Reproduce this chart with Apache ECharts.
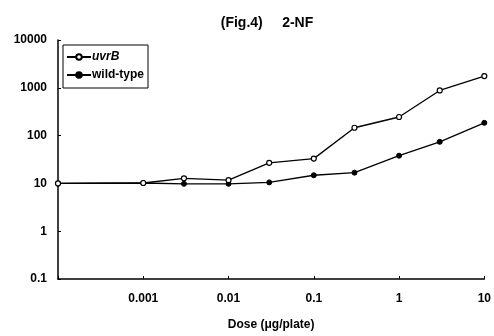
<!DOCTYPE html>
<html>
<head>
<meta charset="utf-8">
<script src="https://cdn.jsdelivr.net/npm/echarts@6/dist/echarts.min.js"></script>
<style>
  html, body { margin: 0; padding: 0; background: #fff; }
  #chart { width: 494px; height: 336px; }
</style>
</head>
<body>
<div id="chart"></div>
<script>
// dose in ug/plate; the leftmost point (0.0001) is the untreated control
const doses = [0.0001, 0.001, 0.003, 0.01, 0.03, 0.1, 0.3, 1, 3, 10];
const uvrB = [10, 10.2, 12.8, 11.7, 27, 33, 146, 245, 880, 1760];
const wildType = [10, 10.2, 9.8, 9.8, 10.5, 14.8, 16.8, 38, 74, 185];
const xTickLabels = { "0.001": "0.001", "0.01": "0.01", "0.1": "0.1", "1": "1", "10": "10" };
const yTickLabels = { "0.1": "0.1", "1": "1", "10": "10", "100": "100", "1000": "1000", "10000": "10000" };

const FONT = "Liberation Sans, Arial, sans-serif";

function pairs(xs, ys) {
  return xs.map((x, i) => [x, ys[i]]);
}

function keyOf(v) {
  return String(parseFloat(Number(v).toPrecision(6)));
}

const chart = echarts.init(document.getElementById("chart"));
chart.setOption({
  animation: false,
  title: {
    text: "(Fig.4)     2-NF",
    left: 262,
    textAlign: "center",
    top: 11,
    textStyle: { fontFamily: FONT, fontSize: 14, fontWeight: "bold", color: "#000" },
  },
  legend: {
    orient: "vertical",
    left: 63,
    top: 45,
    padding: [6, 4, 7, 3],
    itemGap: 6,
    itemWidth: 24,
    itemHeight: 7,
    borderColor: "#000",
    borderWidth: 1,
    data: ["uvrB", "wild-type"],
    formatter: (name) => (name === "uvrB" ? "{i|uvrB}" : name),
    textStyle: {
      fontFamily: FONT,
      fontSize: 12,
      fontWeight: "bold",
      color: "#000",
      padding: [0, 0, 0, -4],
      rich: { i: { fontStyle: "italic", fontWeight: "bold", fontFamily: FONT, fontSize: 12, color: "#000" } },
    },
  },
  grid: { left: 58, right: 8, top: 40, bottom: 53 },
  xAxis: {
    type: "log",
    logBase: 10,
    min: 0.0001,
    max: 10,
    name: "Dose (μg/plate)",
    nameLocation: "middle",
    nameGap: 40,
    nameTextStyle: { fontFamily: FONT, fontSize: 12, fontWeight: "bold", color: "#000" },
    axisLine: { lineStyle: { color: "#000", width: 1.5 } },
    axisTick: { inside: true, length: 3, lineStyle: { color: "#000" } },
    splitLine: { show: false },
    minorTick: { show: false },
    axisLabel: {
      fontFamily: FONT,
      fontSize: 12,
      fontWeight: "bold",
      color: "#000",
      margin: 14,
      formatter: (v) => xTickLabels[keyOf(v)] || "",
    },
  },
  yAxis: {
    type: "log",
    logBase: 10,
    min: 0.1,
    max: 10000,
    axisLine: { show: true, lineStyle: { color: "#000", width: 1.5 } },
    axisTick: { show: true, inside: true, length: 3, lineStyle: { color: "#000" } },
    splitLine: { show: false },
    axisLabel: {
      fontFamily: FONT,
      fontSize: 12,
      fontWeight: "bold",
      color: "#000",
      margin: 11,
      formatter: (v) => yTickLabels[keyOf(v)] || "",
    },
  },
  series: [
    {
      name: "uvrB",
      type: "line",
      data: pairs(doses, uvrB),
      symbol: "circle",
      symbolSize: 5,
      lineStyle: { color: "#000", width: 1.3 },
      itemStyle: { color: "#fff", borderColor: "#000", borderWidth: 1.2 },
      z: 3,
    },
    {
      name: "wild-type",
      type: "line",
      data: pairs(doses, wildType),
      symbol: "circle",
      symbolSize: 5,
      lineStyle: { color: "#000", width: 1.3 },
      itemStyle: { color: "#000", borderColor: "#000", borderWidth: 1 },
      z: 2,
    },
  ],
});
</script>
</body>
</html>
